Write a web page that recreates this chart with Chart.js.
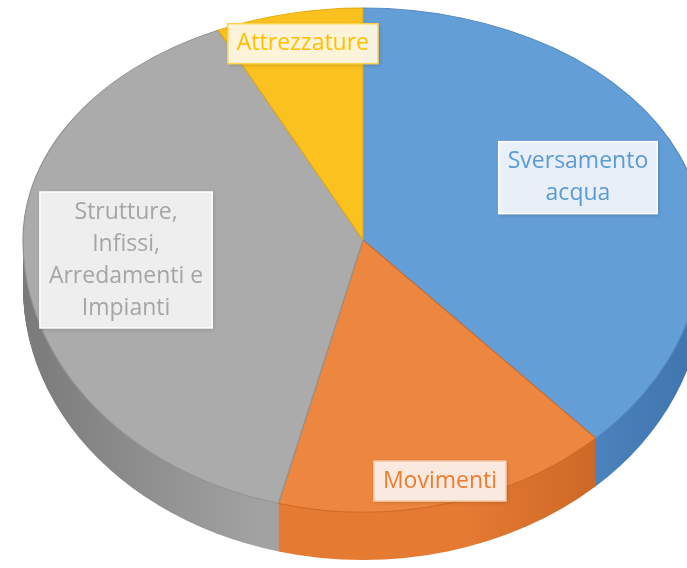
<!DOCTYPE html>
<html>
<head>
<meta charset="utf-8">
<script src="https://cdn.jsdelivr.net/npm/chart.js@4.4.0/dist/chart.umd.min.js"></script>
<style>
  html, body { margin: 0; padding: 0; background: #fff; }
  #wrap { width: 687px; height: 568px; }
</style>
</head>
<body>
<div id="wrap"><canvas id="pieChart" width="687" height="568"></canvas></div>
<script>
const categories = ["Sversamento acqua", "Movimenti", "Strutture, Infissi, Arredamenti e Impianti", "Attrezzature"];
const labelLines = [["Sversamento", "acqua"], ["Movimenti"], ["Strutture,", "Infissi,", "Arredamenti e", "Impianti"], ["Attrezzature"]];
const shares = [38, 16, 39, 7];

const topColors = ["#639ed7", "#ed863e", "#ababab", "#fac11f"];
const sideDark = ["#3f74ad", "#b85a1c", "#7a7a7a", "#c79400"];
const sideLight = ["#5a93cf", "#e57a33", "#a2a2a2", "#f0b400"];
const edgeColors = ["#5489c4", "#cf6a26", "#939393", "#e0aa10"];
const textColors = ["#5b9bd5", "#ed7d31", "#a5a5a5", "#ffc000"];
const boxFills = ["rgba(240,245,252,0.95)", "rgba(253,240,232,0.95)", "rgba(243,243,243,0.95)", "rgba(255,248,228,0.95)"];
const boxBorders = ["#ffffff", "#f6c9aa", "#ffffff", "#ffd24a"];
// label centre as a fraction of the radius, x and y separately
const labelDistX = [0.68, 0.91, 0.70, 0.81];
const labelDistY = [0.73, 0.915, 0.78, 0.867];

// where the flattened pie sits on the page; back half is squashed more (rough perspective)
const PIE = { cx: 363, cy: 240, rx: 340, ryBack: 232, ryFront: 272, depth: 48 };
const W = 687, H = 568;

function pieTransform(ctx, a0, ry) {
  const r = a0.outerRadius;
  ctx.translate(PIE.cx, PIE.cy);
  ctx.scale(PIE.rx / r, ry / r);
  ctx.translate(-a0.x, -a0.y);
}

const pie3d = {
  id: "pie3d",
  beforeDatasetsDraw(chart) {
    const arcs = chart.getDatasetMeta(0).data;
    const a0 = arcs[0];
    const r = a0.outerRadius;
    const ctx = chart.ctx;

    // side wall: stack shifted copies of each slice, deepest first
    ctx.save();
    ctx.beginPath();
    ctx.rect(0, PIE.cy, W, H - PIE.cy);
    ctx.clip();
    pieTransform(ctx, a0, PIE.ryFront);
    const step = r / PIE.ryFront;
    const fills = arcs.map((arc, i) => {
      const g = ctx.createLinearGradient(arc.x - r, 0, arc.x + r, 0);
      g.addColorStop(0, sideDark[i]);
      g.addColorStop(0.35, sideLight[i]);
      g.addColorStop(0.65, sideLight[i]);
      g.addColorStop(1, sideDark[i]);
      return g;
    });
    for (let d = PIE.depth; d >= 1; d--) {
      const off = d * step;
      arcs.forEach((arc, i) => {
        ctx.beginPath();
        ctx.moveTo(arc.x, arc.y + off);
        ctx.arc(arc.x, arc.y + off, arc.outerRadius, arc.startAngle, arc.endAngle);
        ctx.closePath();
        ctx.fillStyle = fills[i];
        ctx.fill();
      });
    }
    ctx.restore();

    // back half of the top face: chart draws it with this transform
    ctx.save();
    ctx.beginPath();
    ctx.rect(0, 0, W, PIE.cy);
    ctx.clip();
    pieTransform(ctx, a0, PIE.ryBack);
  },
  afterDatasetsDraw(chart) {
    const ctx = chart.ctx;
    ctx.restore();
    // front half of the top face
    const arcs = chart.getDatasetMeta(0).data;
    ctx.save();
    ctx.beginPath();
    ctx.rect(0, PIE.cy, W, H - PIE.cy);
    ctx.clip();
    pieTransform(ctx, arcs[0], PIE.ryFront);
    arcs.forEach(arc => arc.draw(ctx));
    ctx.restore();
  },
  afterDraw(chart) {
    const ctx = chart.ctx;
    const arcs = chart.getDatasetMeta(0).data;
    ctx.save();
    ctx.font = "23px 'Open Sans'";
    ctx.textAlign = "center";
    ctx.textBaseline = "middle";
    const lineH = 32;
    arcs.forEach((arc, i) => {
      const mid = (arc.startAngle + arc.endAngle) / 2;
      const s = Math.sin(mid);
      const x = PIE.cx + labelDistX[i] * PIE.rx * Math.cos(mid);
      const y = PIE.cy + labelDistY[i] * (s < 0 ? PIE.ryBack : PIE.ryFront) * s;
      const lines = labelLines[i];
      const w = Math.max(...lines.map(t => ctx.measureText(t).width)) + 18;
      const h = lines.length * lineH + 8;
      ctx.save();
      ctx.shadowColor = "rgba(0,0,0,0.22)";
      ctx.shadowBlur = 4;
      ctx.shadowOffsetX = 1;
      ctx.shadowOffsetY = 1;
      ctx.fillStyle = boxFills[i];
      ctx.fillRect(x - w / 2, y - h / 2, w, h);
      ctx.restore();
      ctx.strokeStyle = boxBorders[i];
      ctx.lineWidth = 1.5;
      ctx.strokeRect(x - w / 2, y - h / 2, w, h);
      ctx.fillStyle = textColors[i];
      lines.forEach((t, k) => {
        ctx.fillText(t, x, y - h / 2 + 4 + lineH * (k + 0.5));
      });
    });
    ctx.restore();
  }
};

const ctx = document.getElementById("pieChart").getContext("2d");

new Chart(ctx, {
  type: "pie",
  data: {
    labels: categories,
    datasets: [
      {
        data: shares,
        backgroundColor: topColors,
        borderColor: edgeColors,
        borderWidth: 1,
        clip: false,
      },
    ],
  },
  options: {
    responsive: false,
    animation: false,
    events: [],
    layout: { padding: 0 },
    plugins: {
      legend: { display: false },
      tooltip: { enabled: false },
    },
  },
  plugins: [pie3d],
});
</script>
</body>
</html>
